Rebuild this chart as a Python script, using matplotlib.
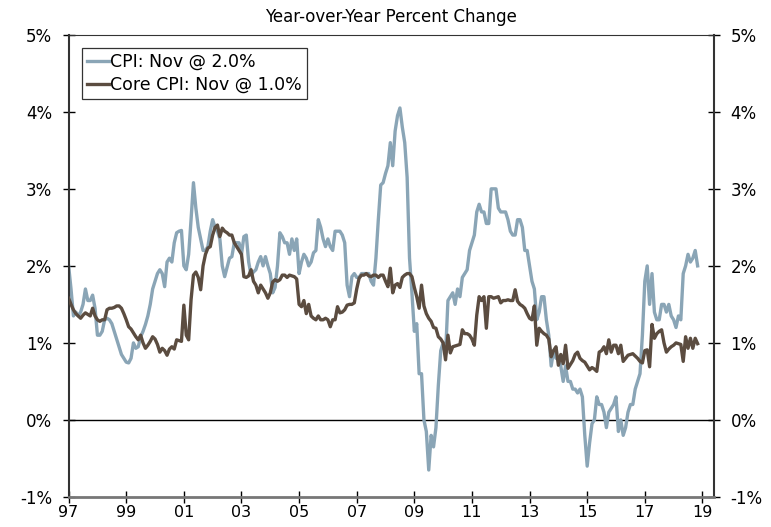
import matplotlib
matplotlib.use('Agg')
import matplotlib.pyplot as pyplot
import numpy

# Monthly YoY % change, Jan 1997 - Nov 2018
cpi = [
    2.0, 1.7, 1.35, 1.4, 1.35, 1.4, 1.5, 1.7, 1.55, 1.55, 1.62, 1.45,       # 1997
    1.1, 1.1, 1.15, 1.3, 1.32, 1.3, 1.25, 1.15, 1.05, 0.95, 0.85, 0.8,      # 1998
    0.75, 0.74, 0.8, 1.0, 0.93, 0.95, 1.08, 1.15, 1.24, 1.35, 1.5, 1.7,     # 1999
    1.8, 1.9, 1.95, 1.9, 1.73, 2.05, 2.1, 2.05, 2.3, 2.43, 2.45, 2.46,      # 2000
    2.0, 1.95, 2.15, 2.6, 3.08, 2.75, 2.5, 2.35, 2.2, 2.2, 2.25, 2.45,      # 2001
    2.6, 2.5, 2.45, 2.35, 2.0, 1.86, 1.98, 2.1, 2.12, 2.3, 2.3, 2.3,        # 2002
    2.15, 2.38, 2.4, 2.05, 1.88, 1.92, 1.95, 2.05, 2.12, 2.0, 2.12, 2.0,    # 2003
    1.9, 1.65, 1.72, 2.0, 2.43, 2.38, 2.3, 2.3, 2.15, 2.35, 2.2, 2.35,      # 2004
    1.9, 2.05, 2.15, 2.1, 2.0, 2.05, 2.17, 2.2, 2.6, 2.5, 2.35, 2.25,       # 2005
    2.35, 2.25, 2.2, 2.45, 2.45, 2.45, 2.4, 2.3, 1.75, 1.6, 1.86, 1.9,      # 2006
    1.85, 1.85, 1.9, 1.9, 1.9, 1.9, 1.8, 1.75, 2.1, 2.6, 3.05, 3.08,        # 2007
    3.2, 3.3, 3.6, 3.3, 3.75, 3.95, 4.05, 3.8, 3.6, 3.15, 2.1, 1.65,        # 2008
    1.15, 1.25, 0.6, 0.6, 0.0, -0.15, -0.65, -0.2, -0.35, -0.1, 0.45, 0.9,  # 2009
    1.0, 0.85, 1.55, 1.6, 1.65, 1.5, 1.7, 1.6, 1.85, 1.9, 1.95, 2.2,        # 2010
    2.3, 2.4, 2.7, 2.8, 2.7, 2.7, 2.55, 2.55, 3.0, 3.0, 3.0, 2.75,          # 2011
    2.7, 2.7, 2.7, 2.6, 2.45, 2.4, 2.4, 2.6, 2.6, 2.5, 2.2, 2.2,            # 2012
    2.0, 1.8, 1.7, 1.3, 1.4, 1.6, 1.6, 1.3, 1.1, 0.7, 0.9, 0.8,             # 2013
    0.8, 0.7, 0.5, 0.7, 0.5, 0.5, 0.4, 0.4, 0.35, 0.4, 0.3, -0.2,           # 2014
    -0.6, -0.3, -0.05, 0.0, 0.3, 0.2, 0.2, 0.1, -0.1, 0.1, 0.15, 0.2,       # 2015
    0.3, -0.15, 0.0, -0.2, -0.1, 0.1, 0.2, 0.2, 0.4, 0.5, 0.6, 1.1,         # 2016
    1.8, 2.0, 1.5, 1.9, 1.4, 1.3, 1.3, 1.5, 1.5, 1.4, 1.5, 1.35,            # 2017
    1.3, 1.2, 1.35, 1.3, 1.9, 2.0, 2.15, 2.05, 2.1, 2.2, 2.0,               # 2018
]

core = [
    1.58, 1.5, 1.43, 1.38, 1.35, 1.32, 1.36, 1.39, 1.37, 1.35, 1.45, 1.35,  # 1997
    1.3, 1.28, 1.3, 1.3, 1.43, 1.45, 1.45, 1.46, 1.48, 1.48, 1.45, 1.38,    # 1998
    1.3, 1.21, 1.18, 1.13, 1.08, 1.04, 1.1, 1.0, 0.93, 0.97, 1.02, 1.08,    # 1999
    1.05, 0.98, 0.88, 0.93, 0.9, 0.84, 0.92, 0.95, 0.92, 1.04, 1.03, 1.02,  # 2000
    1.49, 1.1, 1.04, 1.56, 1.88, 1.92, 1.85, 1.69, 2.0, 2.15, 2.23, 2.25,   # 2001
    2.4, 2.5, 2.53, 2.38, 2.49, 2.45, 2.43, 2.4, 2.4, 2.3, 2.25, 2.2,       # 2002
    2.15, 1.86, 1.85, 1.87, 1.95, 1.8, 1.75, 1.65, 1.75, 1.7, 1.65, 1.58,   # 2003
    1.65, 1.79, 1.82, 1.8, 1.82, 1.88, 1.88, 1.85, 1.88, 1.87, 1.86, 1.83,  # 2004
    1.5, 1.47, 1.55, 1.38, 1.5, 1.35, 1.32, 1.3, 1.35, 1.3, 1.3, 1.32,      # 2005
    1.3, 1.21, 1.3, 1.3, 1.47, 1.39, 1.4, 1.43, 1.49, 1.5, 1.5, 1.52,       # 2006
    1.7, 1.84, 1.88, 1.88, 1.9, 1.87, 1.86, 1.88, 1.88, 1.85, 1.88, 1.88,   # 2007
    1.8, 1.73, 1.97, 1.65, 1.75, 1.77, 1.72, 1.85, 1.88, 1.9, 1.9, 1.86,    # 2008
    1.72, 1.6, 1.45, 1.75, 1.48, 1.38, 1.32, 1.28, 1.2, 1.19, 1.08, 1.05,   # 2009
    1.0, 0.78, 1.1, 0.87, 0.95, 0.96, 0.97, 0.98, 1.17, 1.12, 1.12, 1.1,    # 2010
    1.05, 0.97, 1.36, 1.6, 1.55, 1.6, 1.19, 1.6, 1.6, 1.58, 1.59, 1.6,      # 2011
    1.52, 1.55, 1.55, 1.56, 1.55, 1.55, 1.69, 1.54, 1.5, 1.48, 1.45, 1.38,  # 2012
    1.32, 1.3, 1.48, 0.97, 1.19, 1.15, 1.12, 1.1, 1.05, 0.82, 0.9, 0.95,    # 2013
    0.71, 0.85, 0.73, 0.97, 0.67, 0.72, 0.77, 0.85, 0.88, 0.8, 0.77, 0.75,  # 2014
    0.7, 0.65, 0.68, 0.66, 0.63, 0.88, 0.9, 0.95, 0.86, 1.04, 0.88, 0.97,   # 2015
    0.97, 0.86, 0.97, 0.76, 0.8, 0.84, 0.85, 0.86, 0.83, 0.8, 0.76, 0.74,   # 2016
    0.9, 0.91, 0.69, 1.24, 1.06, 1.12, 1.15, 1.17, 1.0, 0.88, 0.92, 0.95,   # 2017
    0.97, 1.0, 0.99, 0.98, 0.76, 1.08, 0.93, 1.06, 0.93, 1.06, 0.99,        # 2018
]

startYear = 1997
tickYears = list(range(1997, 2020, 2))
yTicks = [-1, 0, 1, 2, 3, 4, 5]

cpiColor = '#8aa5b6'
coreColor = '#5b4c40'

fig = pyplot.figure(figsize=(7.71, 5.27), dpi=100)
ax = fig.add_axes([0.089, 0.057, 0.837, 0.877])

xs = startYear + numpy.arange(len(cpi)) / 12.0

ax.axhline(0, color='black', linewidth=1.0, zorder=1)
ax.plot(xs, cpi, color=cpiColor, linewidth=2.4, label='CPI: Nov @ 2.0%', zorder=2)
ax.plot(xs, core, color=coreColor, linewidth=2.4, label='Core CPI: Nov @ 1.0%', zorder=3)

ax.set_xlim(1997, 2019.4)
ax.set_ylim(-1, 5)
ax.set_xticks(tickYears)
ax.set_xticklabels(['%02d' % (y % 100) for y in tickYears])
ax.set_yticks(yTicks)
ax.set_yticklabels(['%d%%' % v for v in yTicks])

ax.tick_params(axis='both', direction='inout', length=8, width=1.0,
               labelsize=12, colors='black')
ax.tick_params(axis='y', right=True, labelright=True, pad=8)
ax.tick_params(axis='x', pad=2, labelsize=11.5)

for side in ['left', 'right']:
    ax.spines[side].set_linewidth(1.5)
    ax.spines[side].set_color('#333333')
ax.spines['bottom'].set_linewidth(2.0)
ax.spines['bottom'].set_color('#777777')
ax.spines['top'].set_linewidth(0.8)
ax.spines['top'].set_color('#333333')

ax.set_title('Year-over-Year Percent Change', fontsize=12, pad=9)

leg = ax.legend(loc='upper left', fontsize=12.5, frameon=True, fancybox=False,
                edgecolor='black', handlelength=1.3, handletextpad=0.05,
                borderaxespad=0.75, borderpad=0.3, labelspacing=0.3)
leg.get_frame().set_linewidth(0.9)

pyplot.savefig('out.png', dpi=100)
pyplot.close()
